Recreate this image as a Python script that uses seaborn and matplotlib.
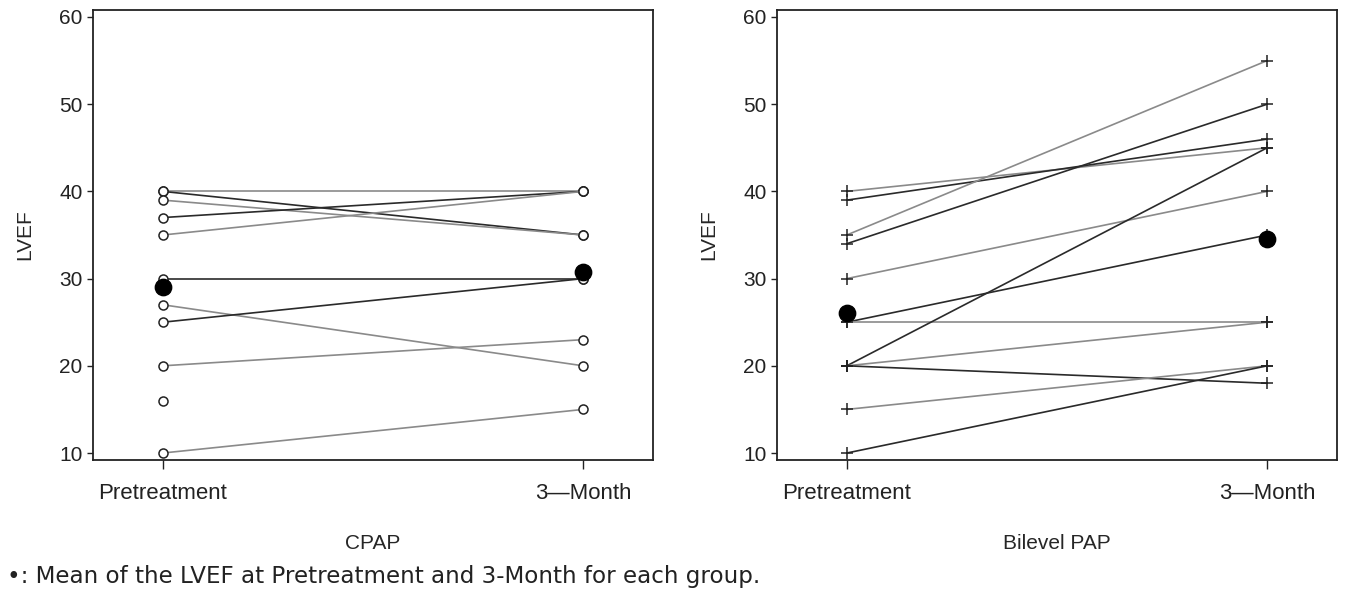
import numpy as np
import pandas as pd
import matplotlib
matplotlib.use("Agg")
import matplotlib.pyplot as plt
import seaborn as sns

# ---- data ----
time_labels = ["Pretreatment", "3\u2014Month"]

cpap_pre = [40, 40, 39, 37, 35, 30, 27, 25, 20, 16, 10]
cpap_3mo = [40, 35, 35, 40, 40, 30, 20, 30, 23, np.nan, 15]
cpap_mean = [29.0, 30.8]

bipap_pre = [40, 39, 35, 34, 30, 25, 25, 20, 20, 20, 15, 10]
bipap_3mo = [45, 46, 55, 50, 40, 35, 25, 45, 25, 18, 20, 20]
bipap_mean = [26.0, 34.5]

group_names = ["CPAP", "Bilevel PAP"]
y_ticks = [10, 20, 30, 40, 50, 60]

sns.set_style("ticks")
plt.rcParams["font.family"] = ["Liberation Sans", "DejaVu Sans"]


def long_table(pre, post):
    rows = []
    for i, (a, b) in enumerate(zip(pre, post)):
        rows.append({"pid": i, "t": 0, "lvef": a})
        if not np.isnan(b):
            rows.append({"pid": i, "t": 1, "lvef": b})
    return pd.DataFrame(rows)


def draw_panel(ax, pre, post, mean, marker, msize, label):
    df = long_table(pre, post)
    n = len(pre)
    shades = ["#8a8a8a" if i % 2 == 0 else "#2a2a2a" for i in range(n)]
    kw = dict(marker=marker, markersize=msize, markeredgewidth=1.1,
              markeredgecolor="#222222")
    if marker == "o":
        kw["markerfacecolor"] = "white"
    sns.lineplot(data=df, x="t", y="lvef", hue="pid", units="pid",
                 estimator=None, palette=shades, linewidth=1.2,
                 legend=False, ax=ax, **kw)
    sns.scatterplot(x=[0, 1], y=mean, color="black", s=140,
                    edgecolor="black", zorder=5, ax=ax)

    ax.set_xlim(-0.166, 1.166)
    ax.set_ylim(9.2, 60.8)
    ax.set_xticks([0, 1])
    ax.set_xticklabels(time_labels)
    ax.set_yticks(y_ticks)
    ax.set_xlabel(label, fontsize=15, labelpad=22)
    ax.set_ylabel("LVEF", fontsize=15, labelpad=18)
    ax.tick_params(axis="y", length=4.5, width=1, labelsize=15, pad=3,
                   colors="#222222")
    ax.tick_params(axis="x", length=6.5, width=1, labelsize=16, pad=10,
                   colors="#222222")
    for s in ax.spines.values():
        s.set_visible(True)
        s.set_linewidth(1.3)
        s.set_color("#222222")


fig = plt.figure(figsize=(13.46, 5.95), dpi=100)
ax1 = fig.add_axes([93 / 1346, 1 - 460 / 595, 560 / 1346, 450 / 595])
ax2 = fig.add_axes([777 / 1346, 1 - 460 / 595, 560 / 1346, 450 / 595])

draw_panel(ax1, cpap_pre, cpap_3mo, cpap_mean, "o", 6.5, group_names[0])
draw_panel(ax2, bipap_pre, bipap_3mo, bipap_mean, "+", 9, group_names[1])

fig.text(0.005, 1 - 576 / 595,
         "\u2022: Mean of the LVEF at Pretreatment and 3-Month for each group.",
         fontsize=16.6, family=["DejaVu Sans"], va="center", ha="left",
         color="#222222")

fig.savefig("out.png", dpi=100)
